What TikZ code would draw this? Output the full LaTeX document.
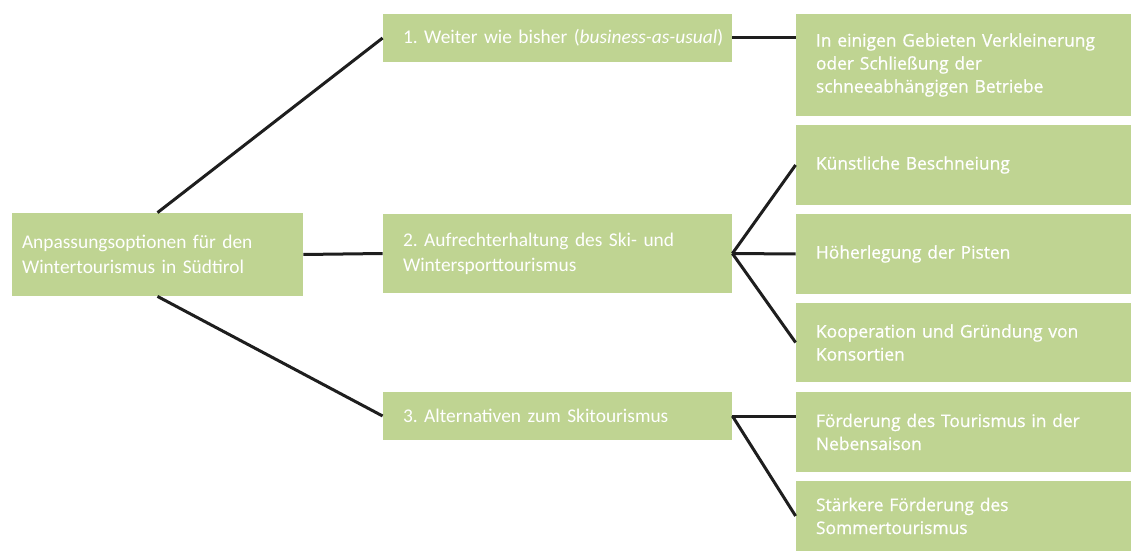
\documentclass[tikz,border=0pt]{standalone}
\usepackage{fontspec}
\setmainfont{Carlito}
\newfontfamily\optfont[FakeBold=0.8]{Open Sans}
\frenchspacing
\definecolor{boxgreen}{RGB}{191,212,146}
\definecolor{linkgray}{RGB}{30,30,30}
\tikzset{
  leftbox/.style={fill=boxgreen,text=white,align=left,inner xsep=10pt,inner ysep=0pt,
    font=\fontsize{9.7}{12.5}\selectfont},
  rightbox/.style={fill=boxgreen,text=white,align=left,inner xsep=10pt,inner ysep=0pt,
    text width=147.5pt,font=\optfont\fontsize{8.7}{11.5}\selectfont},
  link/.style={line width=1.5pt,draw=linkgray}
}

\begin{document}
\begin{tikzpicture}[x=0.5pt,y=-0.5pt]
\useasboundingbox (0,0) rectangle (1131,551);
\node[leftbox,inner xsep=5pt,text width=135.5pt,minimum height=41.5pt] (ziel) at (157.5,254.5) {Anpassungsoptionen für den\\Wintertourismus in Südtirol};
\node[leftbox,text width=154.5pt,minimum height=24pt] (weiter) at (557.5,38) {\mbox{1. Weiter wie bisher (\textit{business-as-usual})}};
\node[leftbox,text width=154.5pt,minimum height=39.5pt] (erhalt) at (557.5,253.5) {2. Aufrechterhaltung des Ski- und\\Wintersporttourismus};
\node[leftbox,text width=154.5pt,minimum height=24pt] (alternativ) at (557.5,416) {3. Alternativen zum Skitourismus};
\node[rightbox,minimum height=51pt] (schliessung) at (963.5,65) {In einigen Gebieten Verkleinerung\\oder Schließung der\\schneeabhängigen Betriebe};
\node[rightbox,minimum height=40pt] (beschneiung) at (963.5,165) {Künstliche Beschneiung};
\node[rightbox,minimum height=40pt] (pisten) at (963.5,254) {Höherlegung der Pisten};
\node[rightbox,minimum height=39.5pt] (konsortien) at (963.5,342.5) {Kooperation und Gründung von\\Konsortien};
\node[rightbox,minimum height=40pt] (nebensaison) at (963.5,432) {Förderung des Tourismus in der\\Nebensaison};
\node[rightbox,minimum height=35pt] (sommer) at (963.5,516) {Stärkere Förderung des\\Sommertourismus};
\draw[link] (ziel.north) -- (weiter.west);
\draw[link] (ziel.east) -- (erhalt.west);
\draw[link] (ziel.south) -- (alternativ.west);
\draw[link] (weiter.east) -- (weiter.east -| schliessung.west);
\draw[link] (erhalt.east) -- (beschneiung.west);
\draw[link] (erhalt.east) -- (pisten.west);
\draw[link] (erhalt.east) -- (konsortien.west);
\draw[link] (alternativ.east) -- (alternativ.east -| nebensaison.west);
\draw[link] (alternativ.east) -- (sommer.west);
\end{tikzpicture}
\end{document}
